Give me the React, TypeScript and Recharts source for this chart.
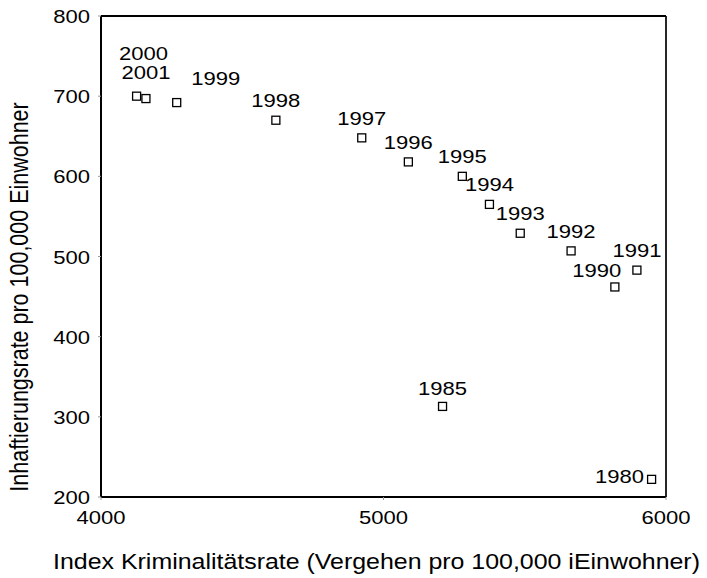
import React from 'react';
import { ScatterChart, Scatter, XAxis, YAxis, ReferenceLine, Label } from 'recharts';

const years = [2000, 2001, 1999, 1998, 1997, 1996, 1995, 1994, 1993, 1992, 1991, 1990, 1985, 1980];
const crimeRate = [4126, 4159, 4268, 4619, 4923, 5088, 5279, 5375, 5484, 5664, 5897, 5819, 5209, 5949];
const incarcerationRate = [700, 697, 692, 670, 648, 618, 600, 565, 529, 507, 483, 462, 313, 222];
const xTicks = [4000, 5000, 6000];
const yTicks = [200, 300, 400, 500, 600, 700, 800];

// label placement (layout only), offsets in px relative to the marker
const labelOffsets: Record<number, [number, number]> = {
  2000: [7, -43],
  2001: [0, -27],
  1999: [39, -25],
  1980: [-32, -3],
  1990: [-18, -17],
  1985: [0, -18],
};

const data = years.map((y, i) => ({ year: y, x: crimeRate[i], y: incarcerationRate[i] }));

const FONT = 'Liberation Sans, Arial, sans-serif';
const SX = 1.16;

const Marker = (props: any) => {
  const { cx, cy, payload } = props;
  const off = labelOffsets[payload.year] || [0, -20];
  return (
    <g>
      <rect x={cx - 4} y={cy - 4} width={8} height={8} fill="white" stroke="#000" strokeWidth={1.3} />
      <text
        transform={`translate(${cx + off[0]},${cy + off[1] + 7}) scale(${SX},1)`}
        textAnchor="middle"
        fontSize={19}
        fontFamily={FONT}
        fill="#000"
      >
        {payload.year}
      </text>
    </g>
  );
};

const XTick = (props: any) => {
  const { x, y, payload } = props;
  return (
    <text transform={`translate(${x},${y + 24}) scale(${SX},1)`} textAnchor="middle" fontSize={19} fontFamily={FONT} fill="#000">
      {payload.value}
    </text>
  );
};

const YTick = (props: any) => {
  const { x, y, payload } = props;
  return (
    <text transform={`translate(${x},${y + 7}) scale(${SX},1)`} textAnchor="end" fontSize={19} fontFamily={FONT} fill="#000">
      {payload.value}
    </text>
  );
};

const XTitle = (props: any) => {
  const vb = props.viewBox || {};
  const cx = vb.x + vb.width / 2 - 7;
  return (
    <text transform={`translate(${cx},569) scale(${SX},1)`} textAnchor="middle" fontSize={21.5} fontFamily={FONT} fill="#000">
      Index Kriminalitätsrate (Vergehen pro 100,000 iEinwohner)
    </text>
  );
};

const YTitle = () => (
  <text transform={`translate(28,297) scale(${SX},1) rotate(-90)`} textAnchor="middle" fontSize={21.5} fontFamily={FONT} fill="#000">
    Inhaftierungsrate pro 100,000 Einwohner
  </text>
);

export default function App() {
  return (
    <div style={{ position: 'absolute', left: 0, top: 0, background: '#fff' }}>
      <ScatterChart width={707} height={578} margin={{ top: 16, right: 41, bottom: 0, left: 0 }}>
        <XAxis
          type="number"
          dataKey="x"
          domain={[4000, 6000]}
          ticks={xTicks}
          height={81}
          axisLine={{ stroke: '#000', strokeWidth: 2 }}
          tickLine={{ stroke: '#999', strokeWidth: 1 }}
          tickSize={3}
          tickMargin={0}
          tick={<XTick />}
          allowDataOverflow
        >
          <Label content={<XTitle />} />
        </XAxis>
        <YAxis
          type="number"
          dataKey="y"
          domain={[200, 800]}
          ticks={yTicks}
          width={101}
          axisLine={{ stroke: '#000', strokeWidth: 2 }}
          tickLine={{ stroke: '#999', strokeWidth: 1 }}
          tickSize={3}
          tickMargin={8}
          tick={<YTick />}
          allowDataOverflow
        >
          <Label content={<YTitle />} />
        </YAxis>
        <ReferenceLine y={800} stroke="#000" strokeWidth={2} />
        <ReferenceLine x={6000} stroke="#000" strokeWidth={1.7} />
        <Scatter data={data} shape={<Marker />} isAnimationActive={false} />
      </ScatterChart>
    </div>
  );
}
